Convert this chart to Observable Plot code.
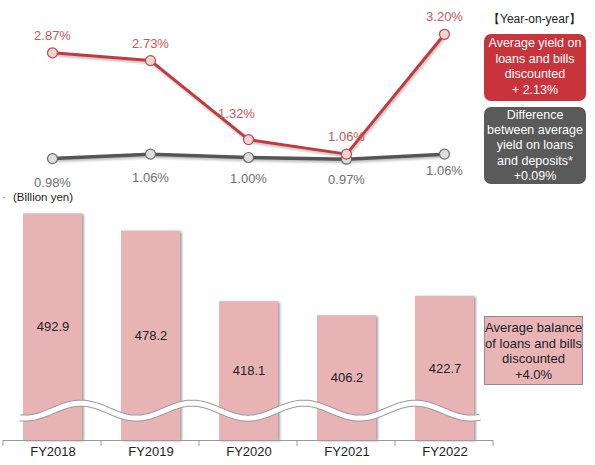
<!DOCTYPE html>
<html><head><meta charset="utf-8">
<script src="https://cdn.jsdelivr.net/npm/d3@7"></script>
<script src="https://cdn.jsdelivr.net/npm/@observablehq/plot@0.6"></script>
<style>
html,body{margin:0;padding:0;background:#fff;}
#wrap{position:relative;width:595px;height:465px;overflow:hidden;font-family:"Liberation Sans",Arial,sans-serif;}
.abs{position:absolute;}
.box{position:absolute;box-sizing:border-box;text-align:center;white-space:nowrap;}
</style></head>
<body>
<div id="wrap">
  <div id="topChart" class="abs" style="left:0;top:0"></div>
  <div id="bottomChart" class="abs" style="left:0;top:190px"></div>
  <div class="abs" style="left:488px;top:11px;font-size:12px;color:#222;">【Year-on-year】</div>
  <div class="box" style="left:484px;top:34px;width:102px;height:67px;background:#c8343b;border-radius:7px;color:#fff;font-size:12.5px;line-height:15.5px;padding-top:2px;">Average yield on<br>loans and bills<br>discounted<br>+ 2.13%</div>
  <div class="box" style="left:484px;top:107px;width:102px;height:77px;background:#5a5a5a;border-radius:7px;color:#fff;font-size:12.5px;line-height:15.2px;padding-top:1px;">Difference<br>between average<br>yield on loans<br>and deposits*<br>+0.09%</div>
  <div class="box" style="left:484px;top:316px;width:99px;height:69px;background:#e9b4b6;border:1px solid #8c8c8c;color:#222;font-size:13px;line-height:15.5px;padding-top:3px;">Average balance<br>of loans and bills<br>discounted<br>+4.0%</div>
  <div class="abs" style="left:13px;top:191px;font-size:11.5px;color:#222;">(Billion yen)</div>
  <div class="abs" style="left:2px;top:191px;font-size:11px;color:#666;">·</div>
</div>
<script>
// ---- data ----
const years = ["FY2018", "FY2019", "FY2020", "FY2021", "FY2022"];
const yieldLoans = [2.87, 2.73, 1.32, 1.06, 3.20];
const yieldDiff = [0.98, 1.06, 1.00, 0.97, 1.06];
const balance = [492.9, 478.2, 418.1, 406.2, 422.7];
const balanceBase = 300; // broken axis baseline

const yieldData = years.map((y, i) => ({year: y, loans: yieldLoans[i], diff: yieldDiff[i], i}));
const balData = years.map((y, i) => ({year: y, value: balance[i]}));

const font = '"Liberation Sans", Arial, sans-serif';
const red = "#c23a40", redLabel = "#c4565b", gray = "#555555", grayLabel = "#6e6e6e";

function pct(v) { return v.toFixed(2) + "%"; }

// ---- top: yields ----
const topPlot = Plot.plot({
  width: 595, height: 190,
  marginLeft: 3, marginRight: 102, marginTop: 17, marginBottom: 5,
  style: {fontFamily: font, fontSize: "13px", background: "transparent", overflow: "visible"},
  x: {type: "point", domain: years, padding: 0.5, axis: null},
  y: {domain: [0.5, 3.5], axis: null},
  marks: [
    Plot.line(yieldData, {x: "year", y: "diff", stroke: gray, strokeWidth: 3.5}),
    Plot.line(yieldData, {x: "year", y: "loans", stroke: red, strokeWidth: 3}),
    Plot.dot(yieldData, {x: "year", y: "diff", r: 5, fill: "#dedede", stroke: "#6a6a6a", strokeWidth: 1.2}),
    Plot.dot(yieldData, {x: "year", y: "loans", r: 5, fill: "#f7d2d3", stroke: "#b84a50", strokeWidth: 1.2}),
    Plot.text(yieldData.filter(d => d.i !== 2), {x: "year", y: "loans", text: d => pct(d.loans), dy: -17, fill: redLabel, fontSize: 13}),
    Plot.text(yieldData.filter(d => d.i === 2), {x: "year", y: "loans", text: d => pct(d.loans), dx: -12, dy: -26, fill: redLabel, fontSize: 13}),
    Plot.text(yieldData.filter(d => d.i <= 1), {x: "year", y: "diff", text: d => pct(d.diff), dy: 24, fill: grayLabel, fontSize: 13}),
    Plot.text(yieldData.filter(d => d.i === 2 || d.i === 3), {x: "year", y: "diff", text: d => pct(d.diff), dy: 21, fill: grayLabel, fontSize: 13}),
    Plot.text(yieldData.filter(d => d.i === 4), {x: "year", y: "diff", text: d => pct(d.diff), dy: 17, fill: grayLabel, fontSize: 13})
  ]
});
document.getElementById("topChart").appendChild(topPlot);
d3.select(topPlot).selectAll('g[aria-label="line"]').style("filter", "drop-shadow(1px 2px 1px rgba(0,0,0,0.25))");

// ---- bottom: balance bars ----
const bottomPlot = Plot.plot({
  width: 595, height: 275,
  marginLeft: 3, marginRight: 102, marginTop: 15, marginBottom: 25,
  style: {fontFamily: font, fontSize: "13px", background: "transparent", color: "#222", overflow: "visible"},
  x: {domain: years, paddingInner: 0.4, paddingOuter: 0.2, label: null, tickSize: 0, tickPadding: 6},
  y: {domain: [balanceBase, 500], axis: null},
  marks: [
    Plot.barY(balData, {x: "year", y1: balanceBase, y2: "value", fill: "#e8b3b5"}),
    Plot.text(balData, {x: "year", y: d => (d.value + balanceBase) / 2, text: d => d.value.toFixed(1), fill: "#222", fontSize: 13}),
    Plot.ruleY([balanceBase], {stroke: "#9a9a9a", strokeWidth: 1})
  ]
});
document.getElementById("bottomChart").appendChild(bottomPlot);
d3.select(bottomPlot).selectAll('g[aria-label="bar"]').style("filter", "drop-shadow(2px 1px 1px rgba(0,0,0,0.35))");

// decorations: band-edge ticks and the wavy axis-break symbol
(function () {
  const svg = d3.select(bottomPlot);
  const xs = bottomPlot.scale("x"), ys = bottomPlot.scale("y");
  const [r0, r1] = xs.range;
  const step = (r1 - r0) / years.length;
  const baseY = ys.apply(balanceBase);
  const g = svg.append("g");
  for (let i = 0; i <= years.length; i++) {
    const x = r0 + i * step;
    g.append("line").attr("x1", x).attr("x2", x).attr("y1", baseY).attr("y2", baseY + 6)
      .attr("stroke", "#9a9a9a").attr("stroke-width", 1);
  }
  const cy = ys.apply(325), amp = 7.5, period = 111.5, x0 = 20, x1 = 480;
  const pts = d3.range(x0, x1 + 0.1, 2).map(x => [x, cy + amp * Math.cos(2 * Math.PI * (x - 25) / period)]);
  const line = d3.line();
  g.append("path").attr("d", line(pts)).attr("fill", "none").attr("stroke", "#9a9a9a").attr("stroke-width", 7);
  g.append("path").attr("d", line(pts)).attr("fill", "none").attr("stroke", "#ffffff").attr("stroke-width", 5);
})();
</script>
</body></html>
